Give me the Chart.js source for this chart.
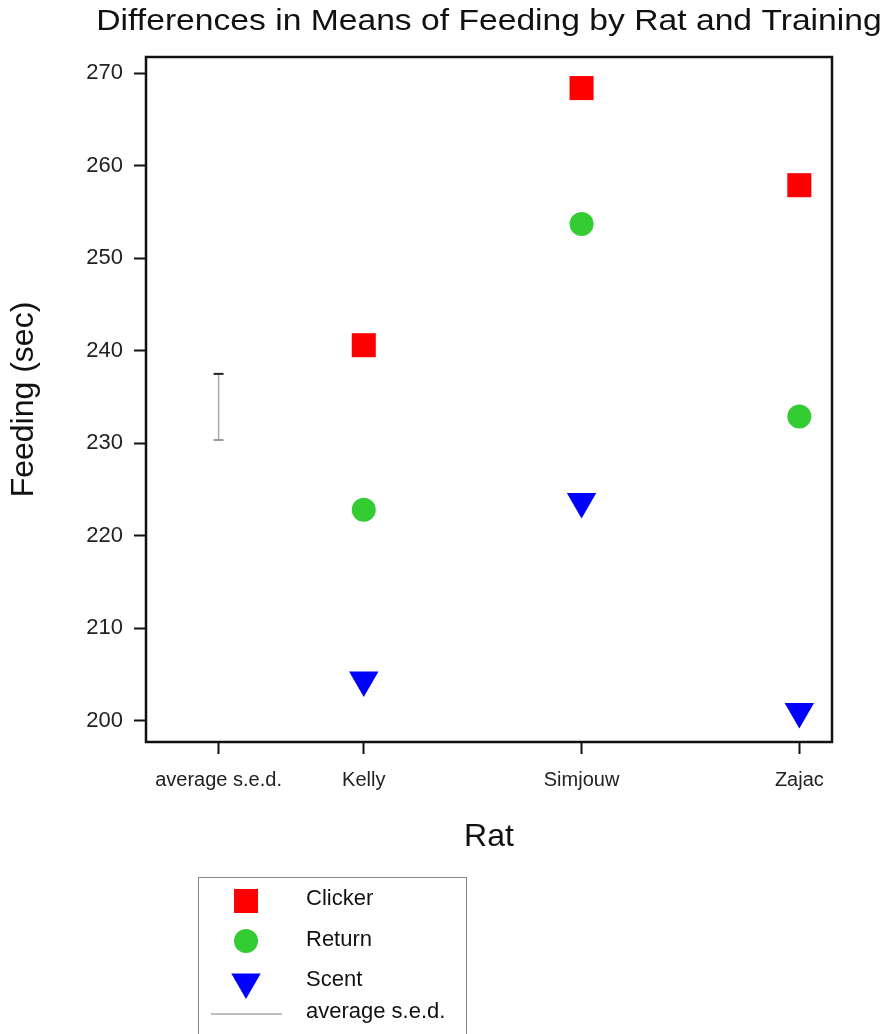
<!DOCTYPE html>
<html>
<head>
<meta charset="utf-8">
<title>Differences in Means of Feeding by Rat and Training</title>
<script src="https://cdn.jsdelivr.net/npm/chart.js@4/dist/chart.umd.min.js"></script>
<style>
  html, body { margin: 0; padding: 0; background: #fff; }
  canvas { display: block; }
</style>
</head>
<body>
<canvas id="chartFeeding" width="891" height="1034"></canvas>
<script>
const chartTitle = "Differences in Means of Feeding by Rat and Training";

// rats on the x axis (Kelly=1, Simjouw=2, Zajac=3), s.e.d. bar sits left of them
const ratX = [1, 2, 3];
const clicker = [240.6, 268.4, 257.9];
const returnVals = [222.8, 253.7, 232.9];
const scent = [204.4, 223.7, 201.0];

// average s.e.d. bar: low and high end
const sedX = 1 / 3;
const sedRange = [230.35, 237.5];

const xTickPos = [1 / 3, 1, 2, 3];
const xTickLabels = ["average s.e.d.", "Kelly", "Simjouw", "Zajac"];
const yTicks = [200, 210, 220, 230, 240, 250, 260, 270];

const FONT = "'Liberation Sans', Arial, Helvetica, sans-serif";

function toPoints(xs, ys) {
  return xs.map((x, i) => ({ x: x, y: ys[i] }));
}

// title, frame and legend drawn by hand
const extras = {
  id: "extras",
  beforeDatasetsDraw(chart) {
    const { ctx, chartArea: a } = chart;
    ctx.save();
    ctx.strokeStyle = "#111";
    ctx.lineWidth = 2.5;
    ctx.strokeRect(a.left, a.top, a.right - a.left, a.bottom - a.top);
    ctx.restore();
  },
  afterDraw(chart) {
    const ctx = chart.ctx;
    ctx.save();
    ctx.fillStyle = "#111";
    ctx.font = "29px " + FONT;
    ctx.textAlign = "center";
    ctx.textBaseline = "alphabetic";
    ctx.translate(489, 30);
    ctx.scale(1.16, 1);
    ctx.fillText(chartTitle, 0, 0);
    ctx.restore();

    // legend box
    ctx.save();
    ctx.strokeStyle = "#888";
    ctx.lineWidth = 1;
    ctx.strokeRect(198.5, 877.5, 268, 170);
    const rowsY = [901, 941, 982];
    const textY = [899, 940, 980, 1012];
    chart.data.datasets.forEach((ds, i) => {
      if (i < 3) {
        ctx.fillStyle = ds.backgroundColor;
        Chart.helpers.drawPoint(ctx, {
          pointStyle: ds.pointStyle,
          radius: ds.pointRadius,
          rotation: ds.pointRotation || 0,
          borderWidth: 0
        }, 246, rowsY[i]);
      } else {
        ctx.strokeStyle = "#aaa";
        ctx.lineWidth = 1.5;
        ctx.beginPath();
        ctx.moveTo(211, 1014);
        ctx.lineTo(282, 1014);
        ctx.stroke();
      }
      ctx.fillStyle = "#111";
      ctx.font = "22px " + FONT;
      ctx.textAlign = "left";
      ctx.textBaseline = "middle";
      ctx.fillText(ds.label, 306, textY[i]);
    });
    ctx.restore();
  }
};

const ctx = document.getElementById("chartFeeding").getContext("2d");
new Chart(ctx, {
  type: "scatter",
  data: {
    datasets: [
      {
        label: "Clicker",
        data: toPoints(ratX, clicker),
        pointStyle: "rect",
        pointRadius: 17,
        backgroundColor: "#ff0000",
        borderWidth: 0
      },
      {
        label: "Return",
        data: toPoints(ratX, returnVals),
        pointStyle: "circle",
        pointRadius: 12,
        backgroundColor: "#33cc33",
        borderWidth: 0
      },
      {
        label: "Scent",
        data: toPoints(ratX, scent),
        pointStyle: "triangle",
        pointRotation: 180,
        pointRadius: 17,
        backgroundColor: "#0000ff",
        borderWidth: 0
      },
      {
        label: "average s.e.d.",
        type: "line",
        data: sedRange.map(v => ({ x: sedX, y: v })),
        borderColor: "#aaa",
        borderWidth: 1.5,
        pointStyle: "line",
        pointRadius: 5,
        pointBorderColor: ["#999", "#222"],
        pointBorderWidth: 2,
        fill: false
      }
    ]
  },
  options: {
    responsive: false,
    animation: false,
    layout: { padding: { top: 57, right: 59, left: 0, bottom: 178 } },
    plugins: {
      legend: { display: false },
      tooltip: { enabled: false }
    },
    scales: {
      x: {
        type: "linear",
        min: 0,
        max: 3.15,
        afterFit: (scale) => { scale.height = 114; },
        afterBuildTicks: (scale) => { scale.ticks = xTickPos.map(v => ({ value: v })); },
        border: { display: false },
        grid: { drawOnChartArea: false, drawTicks: true, tickLength: 12, tickWidth: 2, tickColor: "#111" },
        ticks: {
          padding: 14,
          color: "#222",
          font: { family: FONT, size: 20 },
          maxRotation: 0,
          callback: (value, index) => xTickLabels[index]
        },
        title: {
          display: true,
          text: "Rat",
          color: "#111",
          font: { family: FONT, size: 32 },
          padding: { top: 0, bottom: 0 }
        }
      },
      y: {
        min: 197.7,
        max: 271.76,
        afterFit: (scale) => { scale.width = 146; },
        afterBuildTicks: (scale) => { scale.ticks = yTicks.map(v => ({ value: v })); },
        border: { display: false },
        grid: { drawOnChartArea: false, drawTicks: true, tickLength: 12, tickWidth: 2, tickColor: "#111" },
        ticks: {
          padding: 11,
          color: "#222",
          font: { family: FONT, size: 22 }
        },
        title: {
          display: true,
          text: "Feeding (sec)",
          color: "#111",
          font: { family: FONT, size: 32 },
          padding: { top: 5, bottom: 0 }
        }
      }
    }
  },
  plugins: [extras]
});
</script>
</body>
</html>
